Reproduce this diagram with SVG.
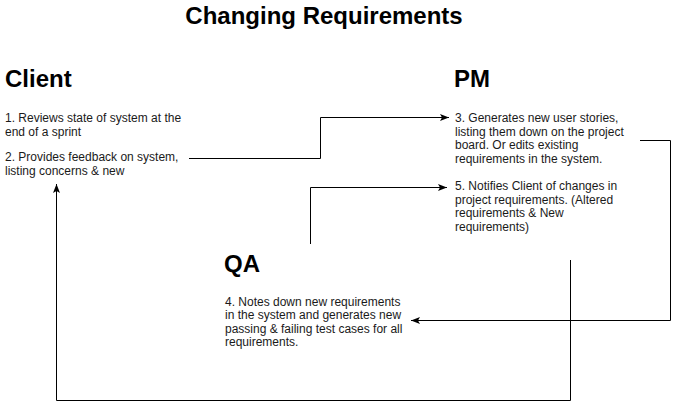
<svg xmlns="http://www.w3.org/2000/svg" width="679" height="411" viewBox="0 0 679 411">
<style>
.h{font-family:"Liberation Sans",Arial,sans-serif;font-weight:bold;font-size:24px;fill:#000}
.t{font-family:"Liberation Sans",Arial,sans-serif;font-size:12px;fill:#1a1a1a}
.c{fill:none;stroke:#000;stroke-width:1}
</style>
<defs>
<marker id="arr" markerUnits="userSpaceOnUse" markerWidth="10" markerHeight="8" refX="9" refY="4" orient="auto">
<path d="M0,0.5 L9,4 L0,7.5 L2,4 Z" fill="#000"/>
</marker>
</defs>
<rect width="679" height="411" fill="#fff"/>
<text class="h" x="324" y="24" text-anchor="middle">Changing Requirements</text>
<g id="client">
<text class="h" x="5" y="87">Client</text>
<text class="t" x="5" y="122">1. Reviews state of system at the</text>
<text class="t" x="5" y="135.5">end of a sprint</text>
<text class="t" x="5" y="161">2. Provides feedback on system,</text>
<text class="t" x="5" y="174.5">listing concerns &amp; new</text>
</g>
<g id="pm">
<text class="h" x="454" y="87">PM</text>
<text class="t" x="455" y="122">3. Generates new user stories,</text>
<text class="t" x="455" y="135.5">listing them down on the project</text>
<text class="t" x="455" y="149">board. Or edits existing</text>
<text class="t" x="455" y="162.5">requirements in the system.</text>
<text class="t" x="455" y="190">5. Notifies Client of changes in</text>
<text class="t" x="455" y="203.5">project requirements. (Altered</text>
<text class="t" x="455" y="217">requirements &amp; New</text>
<text class="t" x="455" y="230.5">requirements)</text>
</g>
<g id="qa">
<text class="h" x="224" y="272">QA</text>
<text class="t" x="225" y="305.5">4. Notes down new requirements</text>
<text class="t" x="225" y="319">in the system and generates new</text>
<text class="t" x="225" y="332.5">passing &amp; failing test cases for all</text>
<text class="t" x="225" y="346">requirements.</text>
</g>
<g id="connectors">
<path class="c" d="M189,158.5 H320.5 V117.5 H449" marker-end="url(#arr)"/>
<path class="c" d="M640,140.5 H670.5 V320.5 H411" marker-end="url(#arr)"/>
<path class="c" d="M310.5,244 V187.5 H447" marker-end="url(#arr)"/>
<path class="c" d="M570.5,260 V400.5 H56.5 V184" marker-end="url(#arr)"/>
</g>
</svg>
